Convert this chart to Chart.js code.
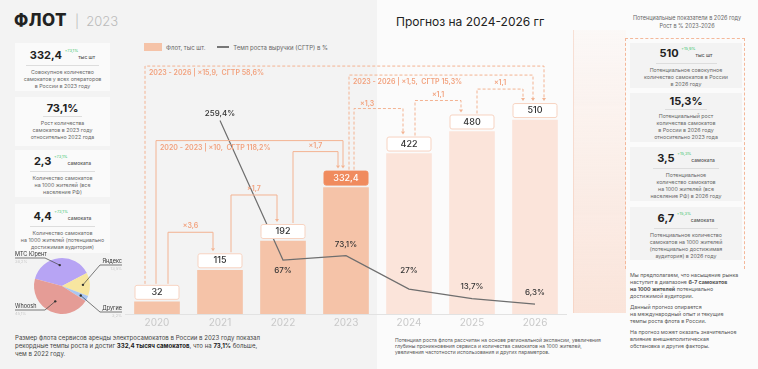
<!DOCTYPE html>
<html lang="ru">
<head>
<meta charset="UTF-8">
<title>Флот 2023</title>
<script src="https://cdn.jsdelivr.net/npm/chart.js"></script>
<style>
    body {
        margin: 0;
        width: 758px;
        height: 369px;
        overflow: hidden;
        background: #f3f3f3;
        font-family: Inter, "Open Sans", sans-serif;
        color: #333;
        position: relative;
    }
    .abs { position: absolute; }
    .right-bg {
        left: 377px; top: 0; width: 381px; height: 369px;
        background: #fbfbfb;
    }
    .ghost {
        left: 573px; top: 30px; width: 52px; height: 283px;
        background: linear-gradient(to bottom, rgba(252,236,228,0.2), rgba(250,224,212,0.85));
        border-left: 1px solid rgba(244,200,180,0.5);
    }
    .title { left: 14px; top: 10px; font-size: 17px; font-weight: 800; color: #222; letter-spacing: 0.5px; }
    .title span { font-weight: 300; color: #bbb; font-size: 13px; letter-spacing: 0; }
    .card {
        background: #fafafa;
        text-align: center;
        display: flex; flex-direction: column; align-items: center; justify-content: center;
    }
    .left .card { left: 15px; width: 95px; }
    .rcol .card { left: 630px; width: 112px; background: #f3f3f3; }
    .num { font-size: 11px; font-weight: 700; color: #222; padding: 0 4px 2px; border-bottom: 0.5px solid #ddd; line-height: 12px; }
    .num small { font-size: 5px; font-weight: 500; color: #555; }
    .num sup { font-size: 4px; font-weight: 400; color: #39c46a; vertical-align: 7px; }
    .desc { font-size: 5.3px; line-height: 7px; color: #666; margin-top: 3px; }
    .legend { top: 43px; left: 144px; font-size: 6px; color: #666; display: flex; align-items: center; }
    .sw { width: 18px; height: 8px; background: #f5c3a8; margin-right: 4px; }
    .ln { width: 12px; height: 2px; background: #777; margin: 0 4px 0 12px; }
    .txt { font-size: 6.1px; line-height: 8px; color: #444; white-space: nowrap; }
    .txt b { color: #222; }
    .small { font-size: 5px; line-height: 6px; color: #555; }
</style>
</head>
<body>
<div class="abs right-bg"></div>
<div class="abs ghost"></div>

<div class="abs title">ФЛОТ <span>&nbsp;|&nbsp; 2023</span></div>
<div class="abs" style="left:396px; top:14px; font-size:12px; color:#222;">Прогноз на 2024-2026 гг</div>

<div class="left">
    <div class="abs card" style="top:43px; height:48px;">
        <div class="num">332,4 <sup>+73,1%</sup><small>тыс шт</small></div>
        <div class="desc">Совокупное количество<br>самокатов у всех операторов<br>в России в 2023 году</div>
    </div>
    <div class="abs card" style="top:97px; height:49px;">
        <div class="num">73,1%</div>
        <div class="desc">Рост количества<br>самокатов в 2023 году<br>относительно 2022 года</div>
    </div>
    <div class="abs card" style="top:150px; height:47px;">
        <div class="num">2,3 <sup>+73,1%</sup><small>самоката</small></div>
        <div class="desc">Количество самокатов<br>на 1000 жителей (все<br>население РФ)</div>
    </div>
    <div class="abs card" style="top:204px; height:49px;">
        <div class="num">4,4 <sup>+73,1%</sup><small>самоката</small></div>
        <div class="desc">Количество самокатов<br>на 1000 жителей (потенциально<br>достижимая аудитория)</div>
    </div>
</div>

<div class="abs legend"><div class="sw"></div>Флот, тыс шт.<div class="ln"></div>Темп роста выручки (СГТР) в %</div>

<div class="abs" style="left:620px; top:14px; width:134px; text-align:center; font-size:5.5px; line-height:8px; color:#666;">Потенциальные показатели в 2026 году<br>Рост в % 2023-2026</div>
<div class="abs" style="left:625px; top:38px; width:118px; height:230px; border:1px dashed #f4b89a; border-bottom:none;"></div>

<div class="rcol">
    <div class="abs card" style="top:43px; height:45px;">
        <div class="num">510 <sup>+15,9%</sup><small>тыс шт</small></div>
        <div class="desc">Потенциальное совокупное<br>количество самокатов в России<br>в 2026 году</div>
    </div>
    <div class="abs card" style="top:93px; height:49px;">
        <div class="num">15,3%</div>
        <div class="desc">Потенциальный рост<br>количества самокатов<br>в России в 2026 году<br>относительно 2023 года</div>
    </div>
    <div class="abs card" style="top:147px; height:54px;">
        <div class="num">3,5 <sup>+15,3%</sup><small>самоката</small></div>
        <div class="desc">Потенциальное<br>количество самокатов<br>на 1000 жителей (все<br>население РФ) в 2026 году</div>
    </div>
    <div class="abs card" style="top:207px; height:53px;">
        <div class="num">6,7 <sup>+15,3%</sup><small>самоката</small></div>
        <div class="desc">Потенциальное количество<br>самокатов на 1000 жителей<br>(потенциально достижимая<br>аудитория) в 2026 году</div>
    </div>
</div>

<div class="abs small" style="left:630px; top:272px; width:125px; font-size:5.3px; line-height:7px;">
    Мы предполагаем, что насыщение рынка<br>наступит в диапазоне <b>6-7 самокатов<br>на 1000 жителей</b> потенциально<br>достижимой аудитории.
    <div style="margin-top:4px;">Данный прогноз опирается<br>на международный опыт и текущие<br>темпы роста флота в России.</div>
    <div style="margin-top:4px;">На прогноз может оказать значительное<br>влияние внешнеполитическая<br>обстановка и другие факторы.</div>
</div>

<div class="abs txt" style="left:15px; top:334px;">Размер флота сервисов аренды электросамокатов в России в 2023 году показал<br>рекордные темпы роста и достиг <b>332,4 тысяч самокатов</b>, что на <b>73,1%</b> больше,<br>чем в 2022 году.</div>
<div class="abs small" style="left:395px; top:337px; white-space:nowrap;">Потенциал роста флота рассчитан на основе региональной экспансии, увеличения<br>глубины проникновения сервиса и количества самокатов на 1000 жителей,<br>увеличения частотности использования и других параметров.</div>

<div class="abs" style="left:120px; top:50px; width:460px; height:290px;"><canvas id="fleetChart"></canvas></div>
<div class="abs" style="left:10px; top:250px; width:115px; height:72px;"><canvas id="shareChart"></canvas></div>

<script>
    const years = ['2020', '2021', '2022', '2023', '2024', '2025', '2026'];
    const fleet = [32, 115, 192, 332.4, 422, 480, 510];
    const fleetLabels = ['32', '115', '192', '332,4', '422', '480', '510'];
    const growth = [null, 259.4, 67, 73.1, 27, 13.7, 6.3];
    const growthLabels = ['', '259,4%', '67%', '73,1%', '27%', '13,7%', '6,3%'];

    const shareNames = ['МТС Юрент', 'Яндекс', 'Другие', 'Whoosh'];
    const shareValues = [38.2, 13.5, 3.2, 45.1];
    const shareLabels = ['38,2%', '13,5%', '3,2%', '45,1%'];

    // multiplier brackets between years
    const steps = [
        { from: 0, to: 1, text: '×3,6', rise: 21, dx1: 11, dx2: -7 },
        { from: 1, to: 2, text: '×1,7', rise: 29, dx1: 11, dx2: -6 },
        { from: 2, to: 3, text: '×1,7', rise: 19, dx1: 10, dx2: -8 },
        { from: 0, to: 3, text: '2020 - 2023 | ×10,  СГТР 118,2%', rise: 30, dx1: -1, dx2: -3, inside: true },
        { from: 3, to: 4, text: '×1,3', rise: 28, dx1: 8, dx2: -6, dashed: true, leftText: true },
        { from: 4, to: 5, text: '×1,1', rise: 14, dx1: 6, dx2: -11, dashed: true },
        { from: 5, to: 6, text: '×1,1', rise: 14, dx1: 5, dx2: -12, dashed: true },
        { from: 3, to: 6, text: '2023 - 2026 | ×1,5,  СГТР 15,3%', rise: 28, dx1: 3, dx2: -2, dashed: true, inside: true },
        { from: 0, to: 6, text: '2023 - 2026 | ×15,9,  СГТР 58,6%', rise: 37, dx1: -12, dx2: 9, dashed: true, inside: true }
    ];

    const histColor = '#f5c3a8';
    const foreColor = '#fbe4da';
    const accent = '#f08b5e';
    const bracketColor = '#f3b392';

    const boxTop = (chart, i) => chart.scales.y.getPixelForValue(fleet[i]) - 17;

    const overlay = {
        id: 'overlay',
        afterDatasetsDraw(chart) {
            const ctx = chart.ctx;
            const x = chart.scales.x;
            const bars = chart.getDatasetMeta(0).data;
            ctx.save();

            // value boxes above bars
            bars.forEach((bar, i) => {
                const w = bar.width, top = bar.y - 17;
                ctx.fillStyle = i === 3 ? accent : '#ffffff';
                ctx.strokeStyle = i === 3 ? accent : '#f7d3c1';
                ctx.lineWidth = 1;
                ctx.beginPath();
                ctx.roundRect(bar.x - w / 2 + 0.5, top + 0.5, w - 1, 14, 2);
                ctx.fill();
                ctx.stroke();
                ctx.fillStyle = i === 3 ? '#ffffff' : '#333';
                ctx.font = '500 9px Inter';
                ctx.textAlign = 'center';
                ctx.textBaseline = 'middle';
                ctx.fillText(fleetLabels[i], bar.x, top + 7.5);
            });

            // brackets
            steps.forEach(s => {
                const x1 = x.getPixelForValue(s.from) + s.dx1;
                const x2 = x.getPixelForValue(s.to) + s.dx2;
                const yTop = boxTop(chart, s.to) - s.rise;
                const y1 = boxTop(chart, s.from) - 1;
                const y2 = boxTop(chart, s.to) - 2;
                ctx.strokeStyle = bracketColor;
                ctx.lineWidth = 1;
                ctx.setLineDash(s.dashed ? [3, 2] : []);
                ctx.beginPath();
                ctx.moveTo(x1, y1);
                ctx.lineTo(x1, yTop);
                ctx.lineTo(x2, yTop);
                ctx.lineTo(x2, y2 - 3);
                ctx.stroke();
                ctx.setLineDash([]);
                ctx.fillStyle = bracketColor;
                ctx.beginPath();
                ctx.moveTo(x2 - 2, y2 - 3);
                ctx.lineTo(x2 + 2, y2 - 3);
                ctx.lineTo(x2, y2);
                ctx.fill();

                ctx.font = '600 7px Inter';
                ctx.fillStyle = '#f2a27e';
                ctx.textBaseline = 'middle';
                if (s.inside) {
                    ctx.textAlign = 'left';
                    ctx.fillText(s.text, x1 + 4, yTop + 7);
                } else if (s.leftText) {
                    ctx.textAlign = 'left';
                    ctx.fillText(s.text, x1 + 6, yTop - 5);
                } else {
                    ctx.textAlign = 'center';
                    ctx.fillText(s.text, (x1 + x2) / 2, yTop - 6);
                }
            });

            // growth labels
            const pts = chart.getDatasetMeta(1).data;
            ctx.font = '500 8px Inter';
            ctx.fillStyle = '#333';
            ctx.textAlign = 'center';
            pts.forEach((p, i) => {
                if (growth[i] === null) return;
                let dy = -11;
                if (i === 1) dy = -7;
                if (i === 2) dy = 11;
                if (i === 3) dy = -11;
                if (i === 4) dy = -18;
                if (i === 5) dy = -12;
                ctx.fillText(growthLabels[i], p.x, p.y + dy);
            });
            ctx.restore();
        }
    };

    new Chart(document.getElementById('fleetChart'), {
        type: 'bar',
        data: {
            labels: years,
            datasets: [{
                label: 'Флот, тыс шт.',
                data: fleet,
                backgroundColor: years.map((y, i) => i < 4 ? histColor : foreColor),
                barThickness: 45,
                yAxisID: 'y',
                order: 2
            }, {
                type: 'line',
                label: 'Темп роста выручки (СГТР) в %',
                data: growth,
                borderColor: '#6e6e6e',
                borderWidth: 1.2,
                pointRadius: 0,
                tension: 0,
                yAxisID: 'y1',
                order: 1
            }]
        },
        options: {
            responsive: true,
            maintainAspectRatio: false,
            animation: false,
            layout: { padding: { left: 5.5, right: 13.5, top: 10, bottom: 8 } },
            plugins: { legend: { display: false }, tooltip: { enabled: false } },
            scales: {
                x: {
                    grid: { display: false, drawTicks: false },
                    border: { display: true, color: '#e2e2e2' },
                    ticks: { color: '#c9c9c9', font: { family: 'Inter', size: 10 }, padding: 3 }
                },
                y: { display: false, min: 0, max: 668 },
                y1: { display: false, min: -7.4, max: 343 }
            }
        },
        plugins: [overlay]
    });

    // operator share pie with leader labels
    const pieLabels = {
        id: 'pieLabels',
        afterDatasetsDraw(chart) {
            const ctx = chart.ctx;
            const arcs = chart.getDatasetMeta(0).data;
            // label anchor: [text x, underline y, side]
            const spots = [[5, 8, 'l'], [112, 15, 'r'], [112, 62, 'r'], [5, 60, 'l']];
            ctx.save();
            arcs.forEach((arc, i) => {
                const mid = (arc.startAngle + arc.endAngle) / 2;
                const r = arc.outerRadius * (i === 3 ? 0.6 : 0.75);
                const cx = arc.x + Math.cos(mid) * r;
                const cy = arc.y + Math.sin(mid) * r;
                const [tx, uy, side] = spots[i];
                const ux = side === 'l' ? tx + 30 : tx - 22;
                ctx.strokeStyle = '#444';
                ctx.lineWidth = 0.7;
                ctx.beginPath();
                ctx.moveTo(tx, uy);
                ctx.lineTo(ux, uy);
                ctx.lineTo(cx, cy);
                ctx.stroke();
                ctx.fillStyle = '#333';
                ctx.beginPath();
                ctx.arc(cx, cy, 1.2, 0, Math.PI * 2);
                ctx.fill();
                ctx.font = '5.5px Inter';
                ctx.textAlign = side === 'l' ? 'left' : 'right';
                ctx.textBaseline = 'bottom';
                ctx.fillText(shareNames[i], tx, uy - 1);
                ctx.fillStyle = '#c8c8c8';
                ctx.font = '4px Inter';
                ctx.textBaseline = 'top';
                ctx.fillText(shareLabels[i], tx, uy + 2);
            });
            ctx.restore();
        }
    };

    new Chart(document.getElementById('shareChart'), {
        type: 'pie',
        data: {
            labels: shareNames,
            datasets: [{
                data: shareValues,
                backgroundColor: ['#b7a4f4', '#f7e6a0', '#a9c6f2', '#e59c96'],
                borderWidth: 0
            }]
        },
        options: {
            responsive: true,
            maintainAspectRatio: false,
            animation: false,
            rotation: -75,
            layout: { padding: { left: 24, right: 35, top: 8, bottom: 8 } },
            plugins: { legend: { display: false }, tooltip: { enabled: false } }
        },
        plugins: [pieLabels]
    });
</script>
</body>
</html>
